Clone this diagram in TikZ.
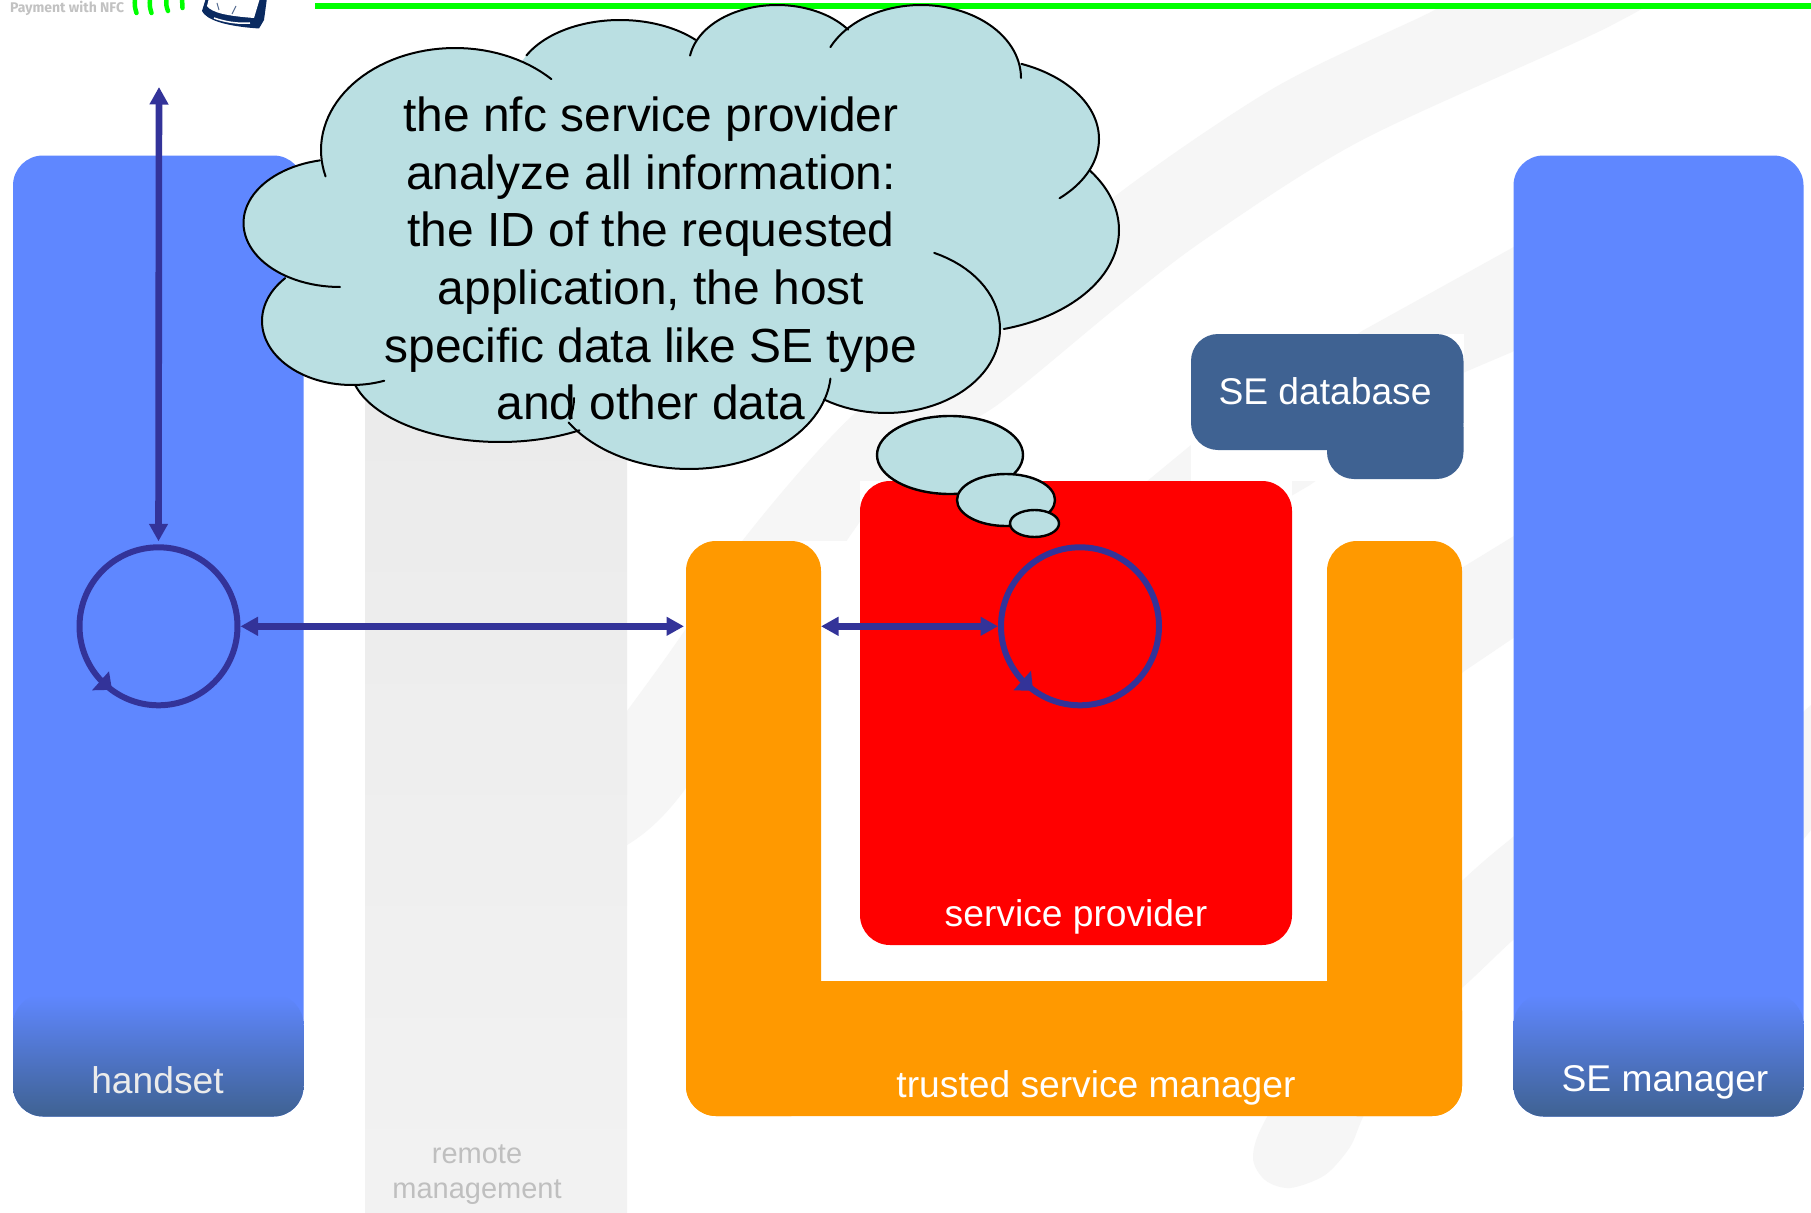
\documentclass[tikz,border=0pt]{standalone}
\usepackage{fontspec}
\setmainfont{Liberation Sans}
\newfontfamily\logofont{Fira Sans}
\usetikzlibrary{arrows.meta,calc,shapes.geometric}
\definecolor{hsblue}{HTML}{5F87FF}
\definecolor{hsdark}{HTML}{3F6292}
\definecolor{tsmorange}{HTML}{FF9900}
\definecolor{arrowblue}{HTML}{333399}
\definecolor{cloudfill}{HTML}{BADFE2}
\definecolor{wmark}{HTML}{F6F6F6}
\definecolor{navy}{HTML}{0A2A60}
\newcommand{\lobefill}[4]{\fill[cloudfill] (#1,#2) ellipse [x radius=#3pt, y radius=#4pt];}
\newcommand{\lobe}[6]{\draw[cloudline] plot[domain=#5:#6,samples=50] ({#1+#3*cos(\x)},{#2+#4*sin(\x)});}
\tikzset{
  boxn/.style={rectangle,rounded corners=30pt,inner sep=0pt,outer sep=0pt},
  cloudline/.style={draw=black,line width=2pt,line cap=round},
  bubble/.style={ellipse,draw=black,line width=2.4pt,fill=cloudfill,inner sep=0pt},
  loopc/.style={circle,draw=arrowblue,line width=6pt,minimum size=158pt,inner sep=0pt},
  flow/.style={draw=arrowblue,line width=6.6pt,{Triangle[length=17.5pt,width=18pt]}-{Triangle[length=17.5pt,width=18pt]}},
  lab/.style={anchor=base,text=white,font=\fontsize{37.2}{37.2}\selectfont},
  grey/.style={anchor=base,text=black!25,font=\fontsize{29}{29}\selectfont},
  wave/.style={draw=green,line width=4.5pt,line cap=round},
}
\begin{document}
\begin{tikzpicture}[x=1pt,y=-1pt]
\useasboundingbox (0,0) rectangle (1811,1212);
\fill[white] (0,0) rectangle (1811,1212);
% watermark swooshes
\begin{scope}
\clip (0,10) rectangle (1811,1212);
\fill[wmark] plot[smooth cycle,tension=.5] coordinates {(1470,-10) (1429,13) (1274,88) (1114,197) (1000,300) (853,415) (743,540) (683,633) (627,711) (560,800) (570,860) (627,845) (683,792) (780,640) (900,470) (1000,403) (1117,307) (1207,238) (1362,140) (1610,26) (1650,-10)};
\fill[wmark] (1540,232) -- (1512,248) -- (1362,331) -- (1191,445) -- (1100,520) -- (1250,520) -- (1310,485) -- (1465,372) -- (1512,352) -- (1540,335) -- cycle;
\fill[wmark] (1540,520) -- (1460,569) -- (1350,660) -- (1350,800) -- (1463,672) -- (1540,620) -- cycle;
\fill[wmark] plot[smooth cycle,tension=.5] coordinates {(1540,815) (1513,837) (1463,880) (1340,1000) (1267,1117) (1253,1157) (1265,1180) (1290,1188) (1325,1175) (1350,1147) (1363,1117) (1400,1040) (1463,987) (1513,940) (1540,920)};
\fill[wmark] (1803,712) -- (1811,705) -- (1811,830) -- (1803,840) -- cycle;
\end{scope}
% white backings of the pictures
\fill[white] (686,541) rectangle (1462,1116);
\fill[white] (860,481) rectangle (1292,945);
\fill[white] (1191,334) rectangle (1464,481);
% remote management band
\node[rectangle,inner sep=0pt,minimum width=262pt,minimum height=852pt,top color=black!8,bottom color=black!5] (band) at (496,786) {};
\node[grey] (rm1) at (477,1163.5) {remote};
\node[grey] (rm2) at (477,1198) {management};
% handset
\node[boxn,fill=hsblue,minimum width=290.5pt,minimum height=961pt] (hand) at (158.25,636) {};
\node[boxn,top color=hsblue,bottom color=hsdark,minimum width=290.5pt,minimum height=122pt] (handfoot) at (158.25,1055.5) {};
\node[lab,text=white!92!black] (handlab) at (157.5,1093) {handset};
% SE manager
\node[boxn,fill=hsblue,minimum width=290pt,minimum height=961pt] (sem) at (1658.5,636) {};
\node[boxn,top color=hsblue,bottom color=hsdark,minimum width=290pt,minimum height=122pt] (semfoot) at (1658.5,1055.5) {};
\node[lab] (semlab) at (1665,1091) {SE manager};
% trusted service manager
\node[boxn,fill=tsmorange,minimum width=135pt,minimum height=575pt] (armL) at (753.5,828.5) {};
\node[boxn,fill=tsmorange,minimum width=135pt,minimum height=575pt] (armR) at (1394.5,828.5) {};
\node[boxn,fill=tsmorange,minimum width=776pt,minimum height=135pt] (bar) at (1074,1048.5) {};
\node[lab] (tsmlab) at (1096,1097) {trusted service manager};
% service provider
\node[boxn,fill=red,minimum width=432pt,minimum height=464pt] (sp) at (1076,713) {};
\node[lab] (splab) at (1076,926) {service provider};
% SE database
\node[boxn,rounded corners=27pt,fill=hsdark,minimum width=272.5pt,minimum height=116pt] (db) at (1327.25,392) {};
\node[boxn,rounded corners=27pt,fill=hsdark,minimum width=136.5pt,minimum height=79pt] (dbb) at (1395.25,439.5) {};
\node[lab] (dblab) at (1325,404.5) {SE database};
% loops
\node[loopc] (hs) at (158.5,626.3) {};
\node[loopc] (spc) at (1080,626.3) {};
\fill[arrowblue] ([shift={(-66.5,64)}]hs.center) -- ([shift={(-49.5,45)}]hs.center) -- ([shift={(-46.5,63.5)}]hs.center) -- cycle;
\fill[arrowblue] ([shift={(-66.5,64)}]spc.center) -- ([shift={(-49,44.5)}]spc.center) -- ([shift={(-47,64.5)}]spc.center) -- cycle;
% connectors
\coordinate (up) at (159,87);
\draw[flow,shorten >=3pt] (up) -- (hs.north);
\draw[flow,shorten >=2pt] (hs.east) -- (armL.west |- hs.east);
\draw[flow] (armL.east |- spc.west) -- (spc.west);
% top bar and logo
\draw[draw=green,line width=6pt] (315,6) coordinate (gl) -- (1811,6) coordinate (gr);
\node[anchor=base west,inner sep=0pt,text=black!24,font=\logofont\bfseries\fontsize{14}{14}\selectfont] (logo) at (10,12.7) {Payment with NFC};
\draw[wave] (135,-2) .. controls (134.5,6) .. (136.5,13);
\draw[wave] (150,-2) .. controls (149.5,6) .. (151.5,13);
\draw[wave] (166.5,-2) .. controls (166,5) .. (168,11);
\draw[wave] (182,-2) .. controls (181.5,3) .. (182.5,8);
\fill[navy] (206,-2) -- (202,11) .. controls (206,19) and (222,26) .. (259,28.5) -- (264,20) -- (267,-2) -- cycle;
\fill[white] (209,-2) -- (207,6) .. controls (212,13) and (228,16) .. (254,18) -- (260,-2) -- cycle;
\draw[white,line width=1.5pt] (214,18) .. controls (225,22) and (238,24) .. (250,23);
\draw[navy!70!white,line width=1pt] (217,3) -- (219,10) (236,6) -- (232,14);
% cloud
\begin{scope}
\lobefill{455}{150}{134}{102}
\lobefill{620}{85}{105}{65}
\lobefill{777}{65}{88}{60}
\lobefill{921}{78}{100}{73}
\lobefill{975}{139}{124}{81}
\lobefill{960}{230}{159}{103}
\lobefill{886}{329}{114}{84}
\lobefill{689}{370}{142}{99}
\lobefill{500}{365}{150}{77}
\lobefill{352}{321}{90}{64}
\lobefill{340}{223}{96.5}{64}
\fill[cloudfill] (455,150) -- (620,85) -- (777,65) -- (921,78) -- (975,139) -- (960,230) -- (886,329) -- (689,370) -- (500,365) -- (352,321) -- (340,223) -- cycle;
\lobe{455}{150}{134}{102}{165}{316}
\lobe{620}{85}{105}{65}{207}{316}
\lobe{777}{65}{88}{60}{189}{324}
\lobe{921}{78}{100}{73}{205}{360}
\lobe{975}{139}{124}{81}{292}{407}
\lobe{960}{230}{159}{103}{-35}{74}
\lobe{886}{329}{114}{84}{-65}{123}
\lobe{689}{370}{142}{99}{5}{148}
\lobe{500}{365}{150}{77}{58}{165}
\lobe{352}{321}{90}{64}{69}{222}
\lobe{340}{223}{96.5}{64}{90}{258}
\draw[cloudline] (570,419) .. controls (572,412) and (574,406) .. (574,398);
\end{scope}
\node[bubble,minimum width=146pt,minimum height=78pt] (b1) at (950,455) {};
\node[bubble,minimum width=98pt,minimum height=52pt] (b2) at (1006,500) {};
\node[bubble,minimum width=49pt,minimum height=27pt] (b3) at (1034.5,523.5) {};
\node[align=center,inner sep=0pt,font=\fontsize{47.9}{57.7}\selectfont] (cloudtext) at (651,258.5) {the nfc service provider\\analyze all information:\\the ID of the requested\\application, the host\\specific data like SE type\\and other data};
\end{tikzpicture}
\end{document}
